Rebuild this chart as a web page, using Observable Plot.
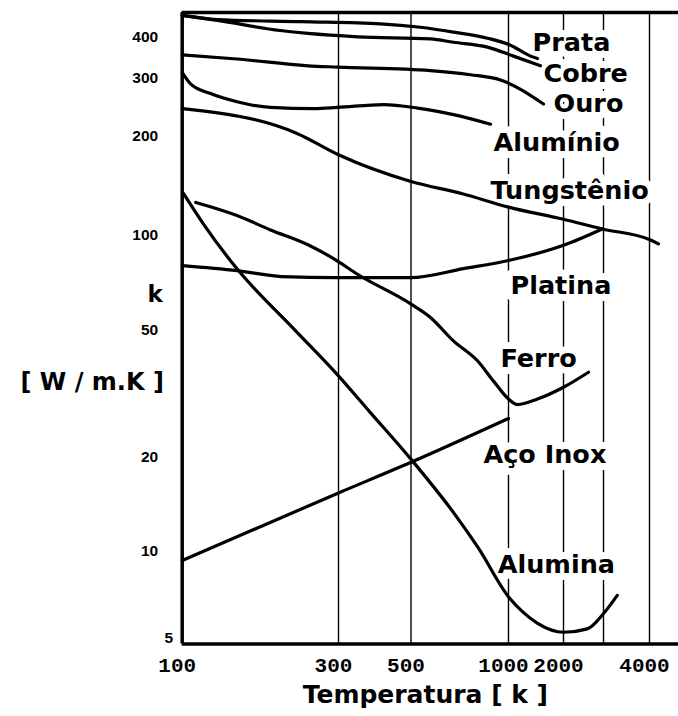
<!DOCTYPE html>
<html><head><meta charset="utf-8">
<script src="https://cdn.jsdelivr.net/npm/d3@7"></script>
<script src="https://cdn.jsdelivr.net/npm/@observablehq/plot@0.6"></script>
<style>
html,body{margin:0;padding:0;background:#fff;}
#chart svg{display:block;background:#fff;}
</style></head><body><div id="chart"></div><script>
// ---- Data (T in K, k in W/m.K) ----
const prataT = [100, 128, 230, 403, 535, 676, 861, 1025, 1320, 1441];
const prataK = [470, 456, 449, 442, 431, 416, 398, 379, 351, 345];
const cobreT = [100, 128, 199, 242, 344, 574, 676, 861, 1065, 1497];
const cobreK = [470, 453, 421, 412, 402, 396, 387, 374, 351, 328];
const ouroT = [100, 147, 242, 298, 574, 763, 944, 1554];
const ouroK = [354, 344, 328, 325, 317, 308, 297, 251];
const aluminioT = [100, 106, 122, 147, 186, 253, 298, 412, 524, 676, 880];
const aluminioK = [313, 289, 270, 255, 245, 243, 245, 250, 244, 233, 218];
const tungstenioT = [100, 225, 300, 500, 721, 1000, 2000, 2963, 4025, 4231];
const tungstenioK = [243, 204, 176, 146, 134, 122, 112, 104.7, 96.8, 94.1];
const platinaT = [100, 147, 201, 298, 499, 726, 1000, 2000, 2963];
const platinaK = [80.3, 77.4, 74.1, 73.5, 73.5, 78.5, 83.3, 93.1, 104.7];
const ferroT = [110, 147, 186, 242, 298, 342, 499, 574, 676, 802, 899, 1000, 1120, 1441, 2000, 2577];
const ferroK = [126, 115, 104, 93.5, 83, 75.5, 60.7, 55, 46.4, 40.2, 34.7, 30.5, 29.3, 30.5, 33.2, 37.0];
const acoT = [100, 300, 500, 1000];
const acoK = [9.35, 15.4, 19.3, 26.5];
const aluminaT = [101, 116, 147, 219, 298, 375, 499, 681, 805, 1004, 1200, 1436, 2005, 2546, 2995, 3270];
const aluminaK = [134, 108.5, 78.4, 50.6, 36.3, 27.7, 19.8, 13.2, 10.3, 7.1, 6.35, 5.85, 5.46, 5.6, 6.27, 7.2];

const materials = ["Prata", "Cobre", "Ouro", "Alumínio", "Tungstênio", "Platina", "Ferro", "Aço Inox", "Alumina"];
const seriesT = [prataT, cobreT, ouroT, aluminioT, tungstenioT, platinaT, ferroT, acoT, aluminaT];
const seriesK = [prataK, cobreK, ouroK, aluminioK, tungstenioK, platinaK, ferroK, acoK, aluminaK];
// label anchor positions (data units)
const labelT = [1353, 1554, 1763, 899, 880, 1025, 944, 837, 926];
const labelK = [386, 310.6, 251, 191.9, 137, 69.4, 40.8, 20.4, 9.07];

// axes (the original axis is hand-drawn: piecewise log)
const xBreaks = [100, 300, 500, 1000, 2000, 3000, 4000, 4800];
const yBreaks = [5, 10, 20, 50, 100, 200, 300, 400, 480];
const xGrid = [300, 500, 1000, 2000, 3000, 4000];
const xTickLabels = [100, 300, 500, 1000, 2000, 4000];
const yTickLabels = [5, 10, 20, 50, 100, 200, 300, 400];
const xTitle = "Temperatura [ k ]";
const yTitle1 = "k";
const yTitle2 = "[ W / m.K ]";

const rows = [];
materials.forEach((m, i) => seriesT[i].forEach((t, j) => rows.push({material: m, T: t, k: seriesK[i][j]})));
const labels = materials.map((m, i) => ({name: m, T: labelT[i], k: labelK[i]}));

const W = 678, H = 716;
const xRange = [181.7, 338, 410.5, 508, 563, 603, 649, 678];
const yRange = [643.5, 551, 457, 330, 235, 136, 78, 37, 12];
const font = "DejaVu Sans";
const numFont = "Liberation Mono";
const tickFont = "Liberation Sans";

const marks = [
  Plot.ruleX(xGrid, {stroke: "black", strokeWidth: 1.4}),
  Plot.text(labels, {x: "T", y: "k", text: "name", textAnchor: "start", lineAnchor: "middle", fontFamily: font, fontWeight: "bold", fontSize: 25.5,
    fill: "black", stroke: "white", strokeWidth: 14, strokeLinejoin: "round", paintOrder: "stroke"}),
  Plot.line(rows, {x: "T", y: "k", z: "material", curve: "monotone-x", stroke: "black", strokeWidth: 3.2}),
  Plot.ruleX([xBreaks[0]], {stroke: "black", strokeWidth: 3.5}),
  Plot.ruleY([yBreaks[0], yBreaks[yBreaks.length - 1]], {x1: xBreaks[0], x2: xBreaks[xBreaks.length - 1], stroke: "black", strokeWidth: 3.5}),
  Plot.text(yTickLabels.filter(d => d !== 5), {y: d => d, text: d => String(d), frameAnchor: "left", textAnchor: "end", lineAnchor: "middle", dx: -24,
    fontFamily: tickFont, fontWeight: "bold", fontSize: 15.5, fill: "black"}),
  Plot.text(yTickLabels.filter(d => d === 5), {y: d => d, text: d => String(d), frameAnchor: "left", textAnchor: "end", lineAnchor: "middle", dx: -9, dy: -6,
    fontFamily: tickFont, fontWeight: "bold", fontSize: 15.5, fill: "black"}),
  Plot.text(xTickLabels, {x: d => d, text: d => String(d), frameAnchor: "bottom", lineAnchor: "middle", dy: 21, dx: -5,
    fontFamily: numFont, fontWeight: "bold", fontSize: 21, fill: "black"}),
  Plot.text([xTitle], {text: d => d, frameAnchor: "bottom", lineAnchor: "middle", textAnchor: "middle", dy: 51, dx: -5, fontFamily: font, fontWeight: "bold", fontSize: 25, fill: "black"}),
  Plot.text([yTitle1], {text: d => d, frameAnchor: "top-left", lineAnchor: "middle", textAnchor: "middle", dx: -27, dy: 282, fontFamily: font, fontWeight: "bold", fontSize: 23, fill: "black"}),
  Plot.text([yTitle2], {text: d => d, frameAnchor: "top-left", lineAnchor: "middle", textAnchor: "middle", dx: -90, dy: 370, fontFamily: font, fontWeight: "bold", fontSize: 24, fill: "black"})
];

const chart = Plot.plot({
  width: W, height: H,
  marginLeft: 181.7, marginRight: 0, marginTop: 12, marginBottom: 72.5,
  style: {background: "white"},
  x: {type: "log", domain: xBreaks, range: xRange, axis: null},
  y: {type: "log", domain: yBreaks, range: yRange, axis: null},
  marks
});
document.getElementById("chart").appendChild(chart);
</script></body></html>
